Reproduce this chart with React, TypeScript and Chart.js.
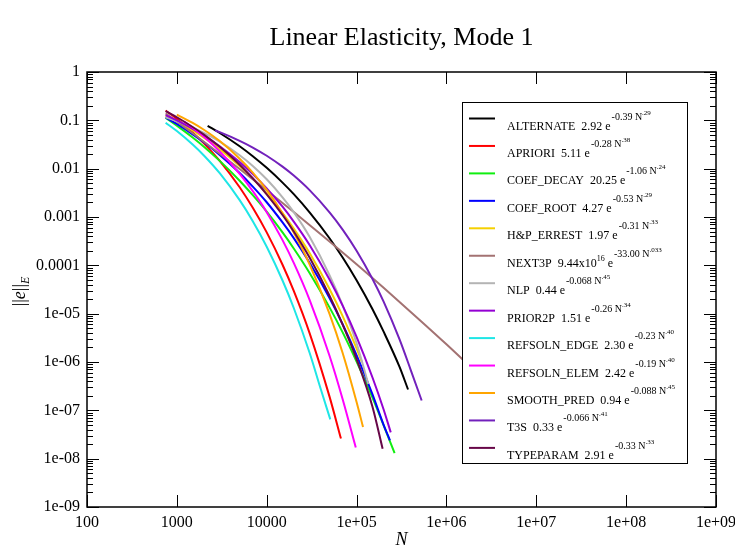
import React, { useEffect, useRef } from 'react';
import { Chart, registerables } from 'chart.js';

Chart.register(...registerables);

const titleText = 'Linear Elasticity, Mode 1';
const xTitleText = 'N';

const xTickValues = [1e2, 1e3, 1e4, 1e5, 1e6, 1e7, 1e8, 1e9];
const xTickLabels = ['100', '1000', '10000', '1e+05', '1e+06', '1e+07', '1e+08', '1e+09'];
const yTickValues = [1e-9, 1e-8, 1e-7, 1e-6, 1e-5, 1e-4, 1e-3, 1e-2, 1e-1, 1];
const yTickLabels = ['1e-09', '1e-08', '1e-07', '1e-06', '1e-05', '0.0001', '0.001', '0.01', '0.1', '1'];

const seriesNames = ['ALTERNATE', 'APRIORI', 'COEF_DECAY', 'COEF_ROOT', 'H&P_ERREST', 'NEXT3P', 'NLP', 'PRIOR2P', 'REFSOLN_EDGE', 'REFSOLN_ELEM', 'SMOOTH_PRED', 'T3S', 'TYPEPARAM'];
const seriesCoefs = ['2.92', '5.11', '20.25', '4.27', '1.97', '9.44x10', '0.44', '1.51', '2.30', '2.42', '0.94', '0.33', '2.91'];
const seriesCoefSups = ['', '', '', '', '', '16', '', '', '', '', '', '', ''];
const seriesExpos = ['-0.39 N', '-0.28 N', '-1.06 N', '-0.53 N', '-0.31 N', '-33.00 N', '-0.068 N', '-0.26 N', '-0.23 N', '-0.19 N', '-0.088 N', '-0.066 N', '-0.33 N'];
const seriesPowers = ['.29', '.38', '.24', '.29', '.33', '.033', '.45', '.34', '.40', '.40', '.45', '.41', '.33'];
const seriesColors = ['#000000', '#ff0000', '#10ee10', '#0000ff', '#f5d000', '#a37272', '#b4b4b4', '#9400d3', '#1ee6e6', '#ff00ff', '#ffa500', '#7221bc', '#670748'];

const alternateN = [2200, 3000, 5000, 7000, 10000, 15000, 20000, 30000, 50000, 70000, 100000, 150000, 200000, 300000, 374000];
const alternateE = [0.0771, 0.0547, 0.0291, 0.0181, 0.0104, 0.00515, 0.00297, 0.00125, 3.64e-4, 1.45e-4, 4.91e-5, 1.25e-5, 4.24e-6, 8.0e-7, 2.7e-7];
const aprioriN = [750, 1000, 1500, 2000, 3000, 5000, 7000, 10000, 15000, 20000, 30000, 50000, 67000];
const aprioriE = [0.1596, 0.1072, 0.0563, 0.0334, 0.0145, 0.00412, 0.00155, 4.8e-4, 1.03e-4, 2.96e-5, 3.97e-6, 1.92e-7, 2.6e-8];
const coefDecayN = [750, 1000, 1500, 2000, 3000, 5000, 7000, 10000, 15000, 20000, 30000, 50000, 70000, 100000, 150000, 200000, 265000];
const coefDecayE = [0.1125, 0.0777, 0.044, 0.0284, 0.0145, 0.00564, 0.00283, 0.00129, 4.79e-4, 2.23e-4, 6.95e-5, 1.35e-5, 4.1e-6, 1.02e-6, 1.86e-7, 4.9e-8, 1.3e-8];
const coefRootN = [750, 1000, 1500, 2000, 3000, 5000, 7000, 10000, 15000, 20000, 30000, 50000, 70000, 100000, 150000, 200000, 235000];
const coefRootE = [0.115, 0.0841, 0.0514, 0.0351, 0.0192, 0.00812, 0.00426, 0.00202, 7.72e-4, 3.66e-4, 1.13e-4, 2.11e-5, 6.05e-6, 1.39e-6, 2.17e-7, 5.0e-8, 2.4e-8];
const hpErrestN = [750, 1000, 1500, 2000, 3000, 5000, 7000, 10000, 15000, 20000, 30000, 50000, 70000, 100000, 115000];
const hpErrestE = [0.1252, 0.0953, 0.0618, 0.0438, 0.0254, 0.0114, 0.00621, 0.00303, 0.0012, 5.74e-4, 1.79e-4, 3.23e-5, 8.9e-6, 1.91e-6, 9.9e-7];
const next3pN = [750, 1000, 1500, 2000, 3000, 5000, 10000, 20000, 50000, 100000, 200000, 500000, 1000000, 2000000, 4000000];
const next3pE = [0.139, 0.0941, 0.0539, 0.0361, 0.0204, 0.00982, 0.00357, 0.00127, 3.11e-4, 1.05e-4, 3.42e-5, 7.5e-6, 2.32e-6, 6.9e-7, 2.0e-7];
const nlpN = [750, 1000, 1500, 2000, 3000, 5000, 7000, 10000, 15000, 20000, 30000, 50000, 70000, 100000, 135000];
const nlpE = [0.1155, 0.096, 0.0708, 0.055, 0.0363, 0.019, 0.0114, 0.00603, 0.00255, 0.00126, 3.89e-4, 6.29e-5, 1.49e-5, 2.45e-6, 3.5e-7];
const prior2pN = [750, 1000, 1500, 2000, 3000, 5000, 7000, 10000, 15000, 20000, 30000, 50000, 70000, 100000, 150000, 200000, 240000];
const prior2pE = [0.1277, 0.0993, 0.0665, 0.0482, 0.0289, 0.01365, 0.00772, 0.00392, 0.00163, 8.04e-4, 2.64e-4, 5.09e-5, 1.47e-5, 3.32e-6, 4.84e-7, 1.04e-7, 3.5e-8];
const refEdgeN = [750, 1000, 1500, 2000, 3000, 5000, 7000, 10000, 15000, 20000, 30000, 40000, 51000];
const refEdgeE = [0.0892, 0.06, 0.0316, 0.01875, 0.00804, 0.00223, 8.18e-4, 2.43e-4, 4.85e-5, 1.31e-5, 1.55e-6, 2.73e-7, 6.5e-8];
const refElemN = [1200, 1500, 2000, 3000, 5000, 7000, 10000, 15000, 20000, 30000, 50000, 70000, 98000];
const refElemE = [0.0948, 0.0701, 0.0455, 0.0226, 0.00784, 0.00342, 0.00126, 3.32e-4, 1.12e-4, 1.93e-5, 1.35e-6, 1.7e-7, 1.7e-8];
const smoothPredN = [1000, 1500, 2000, 3000, 5000, 7000, 10000, 15000, 20000, 30000, 50000, 70000, 100000, 118000];
const smoothPredE = [0.131, 0.0884, 0.0638, 0.0372, 0.0161, 0.00831, 0.00364, 0.0012, 4.79e-4, 1.05e-4, 9.94e-6, 1.54e-6, 1.49e-7, 4.5e-8];
const t3sN = [2660, 3000, 5000, 7000, 10000, 15000, 20000, 30000, 50000, 70000, 100000, 150000, 200000, 300000, 400000, 530000];
const t3sE = [0.0619, 0.0569, 0.0377, 0.0274, 0.0185, 0.011, 0.00719, 0.00359, 0.00125, 5.5e-4, 2.01e-4, 5.29e-5, 1.77e-5, 2.96e-6, 6.9e-7, 1.6e-7];
const typeParamN = [750, 1000, 1500, 2000, 3000, 5000, 7000, 10000, 15000, 20000, 30000, 50000, 70000, 100000, 150000, 195000];
const typeParamE = [0.1548, 0.1158, 0.0729, 0.0506, 0.0283, 0.0121, 0.00632, 0.00295, 0.0011, 5.02e-4, 1.45e-4, 2.35e-5, 5.94e-6, 1.15e-6, 1.2e-7, 1.6e-8];

const seriesN = [alternateN, aprioriN, coefDecayN, coefRootN, hpErrestN, next3pN, nlpN, prior2pN, refEdgeN, refElemN, smoothPredN, t3sN, typeParamN];
const seriesE = [alternateE, aprioriE, coefDecayE, coefRootE, hpErrestE, next3pE, nlpE, prior2pE, refEdgeE, refElemE, smoothPredE, t3sE, typeParamE];

const SERIF = '"Liberation Serif", "DejaVu Serif", serif';

const decorPlugin = {
  id: 'decor',
  afterDatasetsDraw(chart: any) {
    const { ctx, chartArea: a, scales } = chart;
    const xs = scales.x;
    const ys = scales.y;
    ctx.save();
    ctx.strokeStyle = '#000';
    ctx.lineWidth = 1.5;
    ctx.strokeRect(a.left, a.top, a.right - a.left, a.bottom - a.top);
    ctx.lineWidth = 1;
    ctx.beginPath();
    xTickValues.forEach((v) => {
      const px = Math.round(xs.getPixelForValue(v)) + 0.5;
      ctx.moveTo(px, a.bottom);
      ctx.lineTo(px, a.bottom - 12);
      ctx.moveTo(px, a.top);
      ctx.lineTo(px, a.top + 12);
    });
    yTickValues.forEach((v, i) => {
      const py = Math.round(ys.getPixelForValue(v)) + 0.5;
      ctx.moveTo(a.left, py);
      ctx.lineTo(a.left + 12, py);
      ctx.moveTo(a.right, py);
      ctx.lineTo(a.right - 12, py);
      if (i < yTickValues.length - 1) {
        for (let m = 2; m <= 9; m++) {
          const pm = Math.round(ys.getPixelForValue(v * m)) + 0.5;
          ctx.moveTo(a.left, pm);
          ctx.lineTo(a.left + 6, pm);
          ctx.moveTo(a.right, pm);
          ctx.lineTo(a.right - 6, pm);
        }
      }
    });
    ctx.stroke();

    // legend
    const bx = 462.5, by = 102.5, bw = 225, bh = 361;
    ctx.fillStyle = '#fff';
    ctx.fillRect(bx, by, bw, bh);
    ctx.strokeStyle = '#000';
    ctx.lineWidth = 1;
    ctx.strokeRect(bx, by, bw, bh);
    const y0 = 118.5, dy = 27.45;
    chart.data.datasets.forEach((ds: any, i: number) => {
      const ly = y0 + i * dy;
      ctx.strokeStyle = ds.borderColor;
      ctx.lineWidth = 2;
      ctx.beginPath();
      ctx.moveTo(469, ly);
      ctx.lineTo(495, ly);
      ctx.stroke();
      ctx.fillStyle = '#000';
      ctx.textAlign = 'left';
      ctx.textBaseline = 'alphabetic';
      let cx = 507;
      ctx.font = `12px ${SERIF}`;
      const main = seriesNames[i] + '  ' + seriesCoefs[i];
      ctx.fillText(main, cx, ly + 11);
      cx += ctx.measureText(main).width;
      if (seriesCoefSups[i]) {
        ctx.font = `8px ${SERIF}`;
        ctx.fillText(seriesCoefSups[i], cx, ly + 5);
        cx += ctx.measureText(seriesCoefSups[i]).width;
      }
      ctx.font = `12px ${SERIF}`;
      ctx.fillText(' e', cx, ly + 11);
      cx += ctx.measureText(' e').width + 1;
      ctx.font = `10px ${SERIF}`;
      ctx.fillText(seriesExpos[i], cx, ly + 1);
      cx += ctx.measureText(seriesExpos[i]).width;
      ctx.font = `7px ${SERIF}`;
      ctx.fillText(seriesPowers[i], cx, ly - 4);
    });

    // titles
    const cxm = (a.left + a.right) / 2;
    ctx.fillStyle = '#000';
    ctx.textAlign = 'center';
    ctx.textBaseline = 'middle';
    ctx.font = `26px ${SERIF}`;
    ctx.fillText(titleText, cxm, 38);
    ctx.font = `italic 18px ${SERIF}`;
    ctx.fillText(xTitleText, cxm, 540);
    ctx.translate(20, (a.top + a.bottom) / 2 + 2);
    ctx.rotate(-Math.PI / 2);
    ctx.textAlign = 'left';
    const parts = [
      { t: '||', f: `18px ${SERIF}`, dy: 0 },
      { t: 'e', f: `italic 18px ${SERIF}`, dy: 0 },
      { t: '||', f: `18px ${SERIF}`, dy: 0 },
      { t: 'E', f: `italic 12px ${SERIF}`, dy: 6 },
    ];
    let total = 0;
    parts.forEach((p) => { ctx.font = p.f; total += ctx.measureText(p.t).width; });
    let px = -total / 2;
    parts.forEach((p) => {
      ctx.font = p.f;
      ctx.fillText(p.t, px, p.dy);
      px += ctx.measureText(p.t).width;
    });
    ctx.restore();
  },
};

export default function App() {
  const ref = useRef<HTMLCanvasElement | null>(null);
  useEffect(() => {
    if (!ref.current) return;
    const datasets = seriesNames.map((name, i) => ({
      label: name,
      data: seriesN[i].map((n, j) => ({ x: n, y: seriesE[i][j] })),
      borderColor: seriesColors[i],
      backgroundColor: seriesColors[i],
      borderWidth: 2,
      pointRadius: 0,
      fill: false,
      cubicInterpolationMode: 'monotone' as const,
      order: seriesNames.length - i,
    }));
    const chart = new Chart(ref.current, {
      type: 'line',
      data: { datasets },
      options: {
        animation: false,
        responsive: false,
        maintainAspectRatio: false,
        layout: { padding: { top: 72, right: 19, left: 0, bottom: 0 } },
        plugins: {
          legend: { display: false },
          title: { display: false },
          tooltip: { enabled: false },
        },
        scales: {
          x: {
            type: 'logarithmic',
            min: 100,
            max: 1e9,
            afterBuildTicks: (s: any) => { s.ticks = xTickValues.map((v) => ({ value: v })); },
            afterFit: (s: any) => { s.height = 43; s.paddingLeft = 0; s.paddingRight = 0; },
            grid: { display: false, drawTicks: false },
            border: { display: false },
            ticks: {
              autoSkip: false,
              maxRotation: 0,
              minRotation: 0,
              padding: 6,
              color: '#000',
              font: { family: SERIF, size: 16 },
              callback: (_v: any, i: number) => xTickLabels[i],
            },
          },
          y: {
            type: 'logarithmic',
            min: 1e-9,
            max: 1,
            afterBuildTicks: (s: any) => { s.ticks = yTickValues.map((v) => ({ value: v })); },
            afterFit: (s: any) => { s.width = 87; s.paddingTop = 0; s.paddingBottom = 0; },
            grid: { display: false, drawTicks: false },
            border: { display: false },
            ticks: {
              autoSkip: false,
              padding: 7,
              color: '#000',
              font: { family: SERIF, size: 16 },
              callback: (_v: any, i: number) => yTickLabels[i],
            },
          },
        },
      } as any,
      plugins: [decorPlugin],
    });
    return () => chart.destroy();
  }, []);
  return (
    <div style={{ position: 'fixed', left: 0, top: 0, width: 735, height: 550, background: '#fff' }}>
      <canvas ref={ref} width={735} height={550} style={{ display: 'block', width: 735, height: 550 }} />
    </div>
  );
}
